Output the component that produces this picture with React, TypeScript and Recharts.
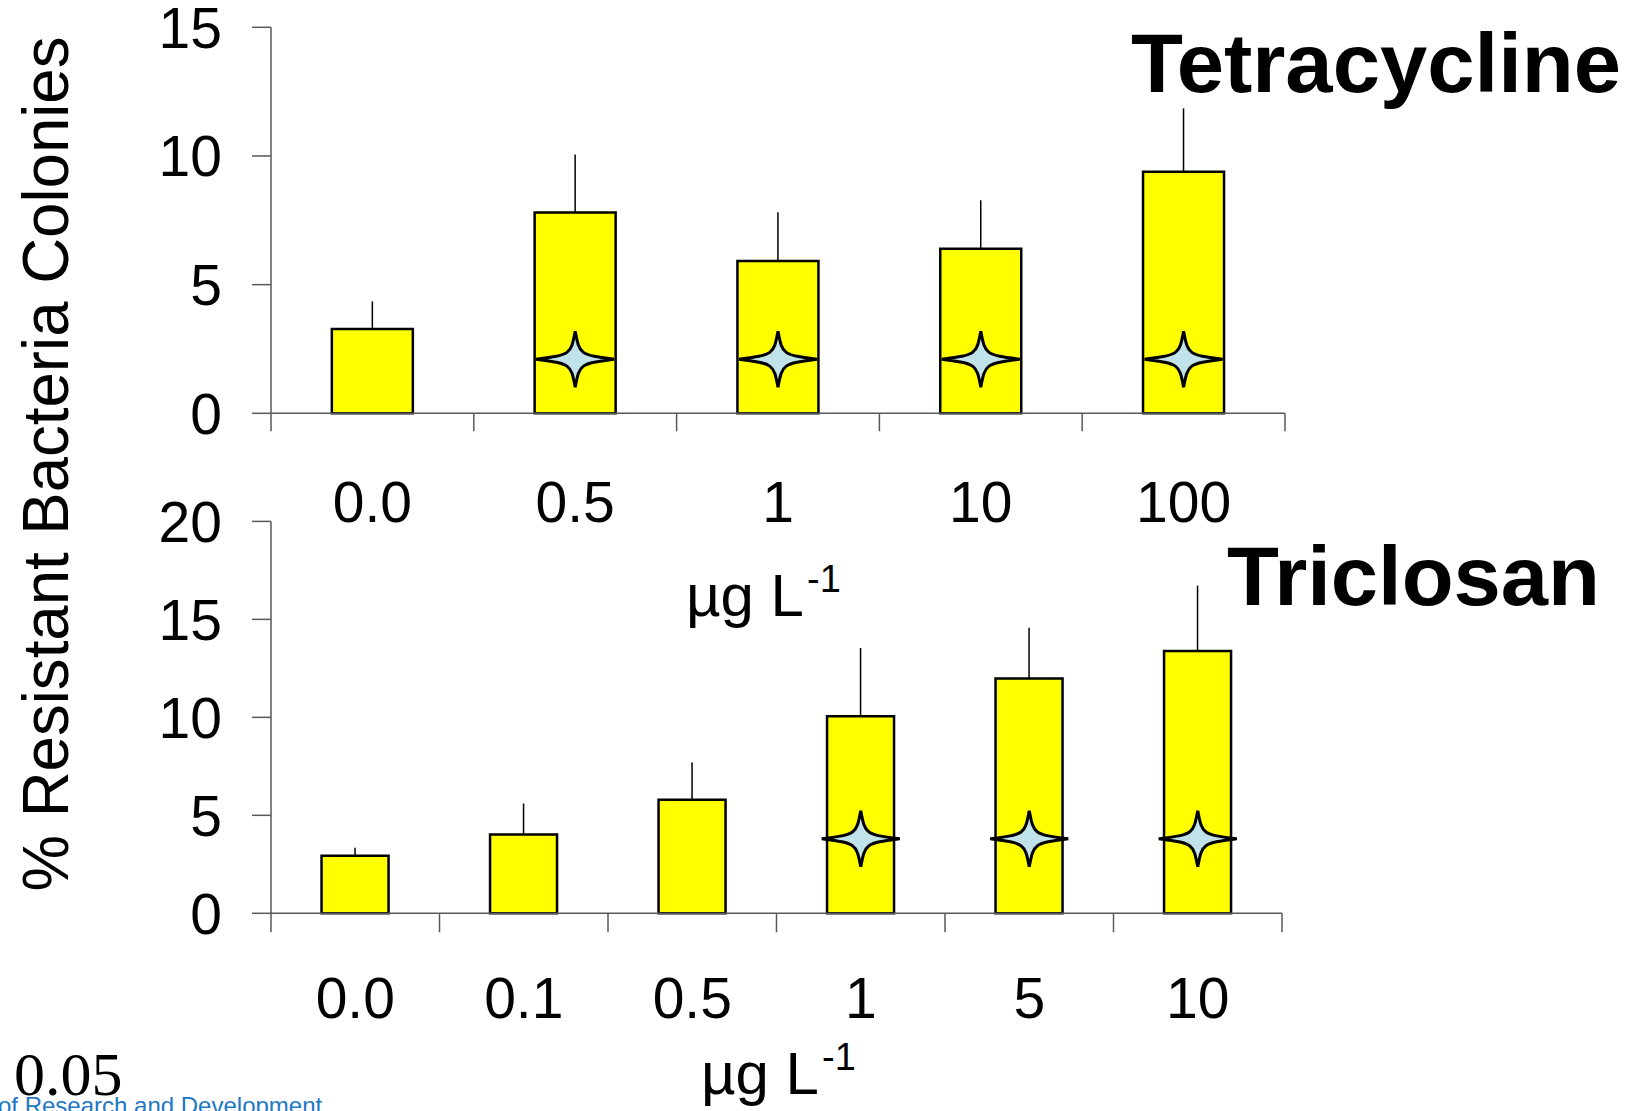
import { ComposedChart, Bar, ErrorBar, Scatter, XAxis, YAxis } from 'recharts'

const FONT = '"Liberation Sans", Arial, Helvetica, sans-serif'
const AXIS_GRAY = '#595959'

// Tetracycline panel
const tetraDoses = ['0.0', '0.5', '1', '10', '100']
const tetraMeans = [3.28, 7.8, 5.92, 6.39, 9.39]
const tetraSE = [1.07, 2.26, 1.89, 1.89, 2.46]
const tetraSig = [null, 2.1, 2.1, 2.1, 2.1]
const tetraTicks = [0, 5, 10, 15]

// Triclosan panel
const tricloDoses = ['0.0', '0.1', '0.5', '1', '5', '10']
const tricloMeans = [2.94, 4.02, 5.79, 10.06, 11.98, 13.38]
const tricloSE = [0.41, 1.58, 1.91, 3.48, 2.59, 3.34]
const tricloSig = [null, null, null, 3.8, 3.8, 3.8]
const tricloTicks = [0, 5, 10, 15, 20]

type Row = { dose: string; mean: number; err: [number, number]; sig: number | null }

const toRows = (doses: string[], means: number[], se: number[], sig: (number | null)[]): Row[] =>
  doses.map((d, i) => ({ dose: d, mean: means[i], err: [0, se[i]], sig: sig[i] }))

// four-pointed star marking significant difference from control
function Star(props: any) {
  const { cx, cy, payload } = props
  if (payload?.sig == null || cx == null || cy == null || isNaN(cy)) return <g />
  const h = 39
  const v = 28
  const c = 4.5
  const d =
    `M${cx},${cy - v} C${cx + c},${cy - c} ${cx + c},${cy - c} ${cx + h},${cy} ` +
    `C${cx + c},${cy + c} ${cx + c},${cy + c} ${cx},${cy + v} ` +
    `C${cx - c},${cy + c} ${cx - c},${cy + c} ${cx - h},${cy} ` +
    `C${cx - c},${cy - c} ${cx - c},${cy - c} ${cx},${cy - v}Z`
  return <path d={d} fill="#bfe3e8" stroke="#000" strokeWidth={3} />
}

// category labels sit well below the axis, tick marks sit on the band edges
const makeXTick = (count: number, band: number, labelDy: number, tickLen: number) =>
  function XTick(props: any) {
    const { x, y, payload, index } = props
    return (
      <g>
        <line x1={x - band / 2} x2={x - band / 2} y1={y} y2={y + tickLen} stroke={AXIS_GRAY} strokeWidth={1.5} />
        {index === count - 1 && (
          <line x1={x + band / 2} x2={x + band / 2} y1={y} y2={y + tickLen} stroke={AXIS_GRAY} strokeWidth={1.5} />
        )}
        <text x={x} y={y + labelDy} textAnchor="middle" fontSize={57} fill="#000" fontFamily={FONT}>
          {payload.value}
        </text>
      </g>
    )
  }

interface PanelProps {
  rows: Row[]
  ticks: number[]
  height: number
  margin: { top: number; right: number; bottom: number; left: number }
  labelDy: number
  tickLen: number
}

function Panel({ rows, ticks, height, margin, labelDy, tickLen }: PanelProps) {
  const width = 1645
  const plotW = width - margin.left - margin.right - 100
  const band = plotW / rows.length
  return (
    <ComposedChart width={width} height={height} data={rows} margin={margin} barCategoryGap="30%" style={{ fontFamily: FONT }}>
      <XAxis
        dataKey="dose"
        height={100}
        interval={0}
        axisLine={{ stroke: AXIS_GRAY, strokeWidth: 1.5 }}
        tickLine={false}
        tickSize={0}
        tickMargin={0}
        tick={makeXTick(rows.length, band, labelDy, tickLen)}
      />
      <YAxis
        type="number"
        width={100}
        domain={[0, ticks[ticks.length - 1]]}
        ticks={ticks}
        interval={0}
        tickSize={19}
        tickMargin={30}
        axisLine={{ stroke: AXIS_GRAY, strokeWidth: 1.5 }}
        tickLine={{ stroke: AXIS_GRAY, strokeWidth: 1.5 }}
        tick={{ fontSize: 57, fill: '#000', fontFamily: FONT }}
      />
      <Bar dataKey="mean" fill="#ffff00" stroke="#000" strokeWidth={2.5} isAnimationActive={false}>
        <ErrorBar dataKey="err" width={0} stroke="#000" strokeWidth={1.5} direction="y" />
      </Bar>
      <Scatter dataKey="sig" shape={Star} isAnimationActive={false} />
    </ComposedChart>
  )
}

export default function App() {
  const tetraRows = toRows(tetraDoses, tetraMeans, tetraSE, tetraSig)
  const tricloRows = toRows(tricloDoses, tricloMeans, tricloSE, tricloSig)
  return (
    <div style={{ position: 'absolute', left: 0, top: 0, width: 1645, height: 1111, overflow: 'hidden', background: '#fff', fontFamily: FONT }}>
      <div style={{ position: 'absolute', left: 0, top: 0 }}>
        <Panel
          rows={tetraRows}
          ticks={tetraTicks}
          height={540}
          margin={{ top: 27.3, right: 360, bottom: 26.7, left: 171 }}
          labelDy={109}
          tickLen={18}
        />
      </div>
      <div style={{ position: 'absolute', left: 0, top: 0 }}>
        <Panel
          rows={tricloRows}
          ticks={tricloTicks}
          height={1111}
          margin={{ top: 521.4, right: 363, bottom: 97.7, left: 171 }}
          labelDy={105}
          tickLen={19}
        />
      </div>
      <svg width={1645} height={1111} style={{ position: 'absolute', left: 0, top: 0, pointerEvents: 'none' }}>
        <text x={68} y={464} transform="rotate(-90 68 464)" textAnchor="middle" fontSize={64} fontFamily={FONT} fill="#000"
          textLength={855} lengthAdjust="spacingAndGlyphs">
          % Resistant Bacteria Colonies
        </text>
        <text x={1131} y={92} fontSize={84} fontWeight="bold" fontFamily={FONT} fill="#000" textLength={490} lengthAdjust="spacingAndGlyphs">
          Tetracycline
        </text>
        <text x={1227} y={605} fontSize={84} fontWeight="bold" fontFamily={FONT} fill="#000" textLength={373} lengthAdjust="spacingAndGlyphs">
          Triclosan
        </text>
        <text x={686} y={616} fontSize={60} fontFamily={FONT} fill="#000">µg L</text>
        <text x={807} y={592} fontSize={38} fontFamily={FONT} fill="#000">-1</text>
        <text x={701} y={1094} fontSize={60} fontFamily={FONT} fill="#000">µg L</text>
        <text x={822} y={1070} fontSize={38} fontFamily={FONT} fill="#000">-1</text>
        <text x={14} y={1095} fontSize={62} fontFamily={'"Liberation Serif", "Times New Roman", serif'} fill="#000">0.05</text>
        <text x={-2} y={1114} fontSize={24} fontFamily={FONT} fill="#2277c4">of Research and Development</text>
      </svg>
    </div>
  )
}
